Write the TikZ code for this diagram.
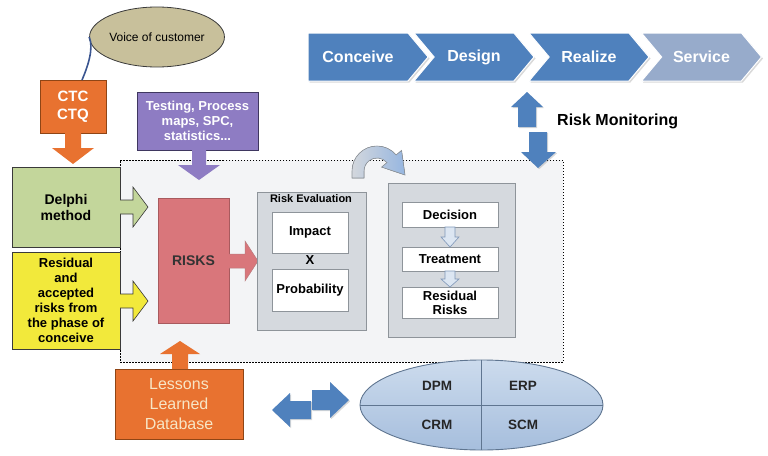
\documentclass[tikz,border=0pt]{standalone}
\usepackage{fontspec}
\setmainfont{Liberation Sans}
\usetikzlibrary{shapes.geometric,shapes.symbols,shadows,calc}
\definecolor{orgcol}{HTML}{E87230}
\definecolor{orgdark}{HTML}{8F4515}
\definecolor{purcol}{HTML}{8E7CC3}
\definecolor{purdark}{HTML}{3F3760}
\definecolor{greencol}{HTML}{C3D69B}
\definecolor{yelcol}{HTML}{F2E93B}
\definecolor{riskcol}{HTML}{D9767B}
\definecolor{riskdark}{HTML}{A85A5E}
\definecolor{graybox}{HTML}{D5D9DE}
\definecolor{grayline}{HTML}{8E949A}
\definecolor{bluecol}{HTML}{4F81BD}
\definecolor{servcol}{HTML}{97ABCB}
\definecolor{regcol}{HTML}{F3F4F6}
\definecolor{voccol}{HTML}{C8C09B}
\definecolor{cream}{HTML}{F7E6C6}
\definecolor{darkline}{HTML}{3A3A3A}
\definecolor{smallarr}{HTML}{DCE6F2}
\definecolor{smallarrline}{HTML}{7F97B8}
\definecolor{sysline}{HTML}{5F7590}
\definecolor{systop}{HTML}{CCDBED}
\definecolor{sysbot}{HTML}{A6BEDD}
\definecolor{curvl}{HTML}{D3D7DD}
\definecolor{curvr}{HTML}{96B6E0}
\definecolor{voiceline}{HTML}{3A5590}
\begin{document}
\begin{tikzpicture}[x=1pt,y=-1pt,
  bx/.style={rectangle, inner sep=0pt, outer sep=0pt, align=center},
  f16/.style={font=\bfseries\fontsize{16}{18}\selectfont},
  f13/.style={font=\bfseries\fontsize{13}{15}\selectfont},
  chev/.style={signal, signal to=east, signal pointer angle=100, minimum width=120pt,
    minimum height=48pt, inner sep=0pt, fill=bluecol, draw=white, line width=1pt,
    text=white, f16, drop shadow={shadow xshift=1.5pt, shadow yshift=-1.5pt, opacity=0.3}},
  barrow/.style={fill=bluecol, drop shadow={shadow xshift=1.2pt, shadow yshift=-1.2pt, opacity=0.3}},
  whitebox/.style={bx, fill=white, draw=grayline, line width=0.8pt, minimum width=76pt},
  tbox/.style={bx, fill=white, draw=grayline, line width=0.8pt, minimum width=96pt, f13},
  systext/.style={font=\bfseries\fontsize{13.5}{15}\selectfont, text=black!85}
]
\useasboundingbox (0,0) rectangle (768,455);

% dotted region
\node[bx, draw=black, line width=0.9pt, dash pattern=on 1.5pt off 1.5pt, fill=regcol,
  minimum width=443pt, minimum height=202pt] (region) at (341.5,261) {};

% chevrons
\node[chev, signal from=nowhere] (conceive) at (358,57) {Conceive};
\node[chev, signal from=west] (design) at (474,57) {Design};
\node[chev, signal from=west] (realize) at (589,57) {Realize};
\node[chev, signal from=west, fill=servcol] (service) at (701.5,57) {Service};

% risk monitoring
\fill[barrow] (527,92) -- (543,107) -- (536,107) -- (536,127) -- (518,127) -- (518,107) -- (511,107) -- cycle;
\fill[barrow] (529,132) -- (547,132) -- (547,152) -- (556,152) -- (538,168) -- (521,152) -- (529,152) -- cycle;
\node[f16, anchor=west, inner sep=0pt] (riskmon) at (557,121) {Risk Monitoring};

% voice of customer
\node[ellipse, draw=darkline, fill=voccol, line width=0.8pt, minimum width=105pt, minimum height=60pt,
  inner sep=0pt, font=\fontsize{12}{14}\selectfont] (voc) at (157,37) {Voice of customer};
\node[bx, draw=orgdark, fill=orgcol, line width=0.8pt, minimum width=66pt, minimum height=53pt,
  text=white, font=\bfseries\fontsize{15}{18}\selectfont] (ctc) at (73,106.5) {CTC\\CTQ};
\draw[voiceline, line width=1.6pt] (voc.west) .. controls (94,48) and (88,66) .. ([xshift=9pt]ctc.north);
\fill[orgcol] (65,133) -- (81,133) -- (81,148) -- (94,148) -- (73,164) -- (52,148) -- (65,148) -- cycle;

% tools
\node[bx, draw=purdark, fill=purcol, line width=0.8pt, minimum width=121pt, minimum height=58pt,
  text=white, f13] (tools) at (197.5,121) {Testing, Process\\maps, SPC,\\statistics...};
\fill[purcol] (192,150) -- (206,150) -- (206,165) -- (220,165) -- (199,180) -- (178,165) -- (192,165) -- cycle;

% Delphi
\node[bx, draw=darkline, fill=greencol, line width=0.8pt, minimum width=108pt, minimum height=80pt,
  font=\bfseries\fontsize{14}{16}\selectfont] (delphi) at (66,207) {Delphi\\method};
\filldraw[fill=greencol, draw=darkline, line width=0.6pt] (120,200) -- (133,200) -- (133,187) -- (148,207) -- (133,227) -- (133,214) -- (120,214);

% residual
\node[bx, draw=darkline, fill=yelcol, line width=0.8pt, minimum width=108pt, minimum height=97pt,
  f13] (resid) at (66,300.5) {Residual\\and\\accepted\\risks from\\the phase of\\conceive};
\filldraw[fill=yelcol, draw=darkline, line width=0.6pt] (120,294) -- (133,294) -- (133,281) -- (148,301) -- (133,321) -- (133,308) -- (120,308);

% RISKS
\node[bx, draw=riskdark, fill=riskcol, line width=0.8pt, minimum width=71pt, minimum height=125pt,
  text=black!80, font=\bfseries\fontsize{14}{16}\selectfont] (risks) at (193.5,260.5) {RISKS};
\filldraw[fill=riskcol, draw=riskdark!80, line width=0.5pt] (229,254) -- (245,254) -- (245,241) -- (258,261) -- (245,281) -- (245,268) -- (229,268);

% risk evaluation
\node[bx, draw=grayline, fill=graybox, line width=0.9pt, minimum width=109pt, minimum height=138pt] (evalbox) at (311.5,261) {};
\node[font=\bfseries\fontsize{11}{13}\selectfont, inner sep=0pt] (evaltitle) at (311,199) {Risk Evaluation};
\node[whitebox, minimum height=41pt, f13] (impact) at (310,232.5) {Impact};
\node[f13, inner sep=0pt] (times) at (310,260.5) {X};
\node[whitebox, minimum height=42pt, f13] (prob) at (310,290) {Probability};

% treatment
\node[bx, draw=grayline, fill=graybox, line width=0.9pt, minimum width=127pt, minimum height=154pt] (treatbox) at (451.5,260) {};
\node[tbox, minimum height=25pt] (decision) at (450,214.5) {Decision};
\node[tbox, minimum height=24pt] (treatment) at (450,259) {Treatment};
\node[tbox, minimum height=31pt, font=\bfseries\fontsize{13}{14}\selectfont] (resrisk) at (450,302.5) {Residual\\Risks};
\filldraw[fill=smallarr, draw=smallarrline, line width=0.6pt] (445,227) -- (455,227) -- (455,237) -- (459,237) -- (450,247) -- (441,237) -- (445,237) -- cycle;
\filldraw[fill=smallarr, draw=smallarrline, line width=0.6pt] (445,271) -- (455,271) -- (455,279) -- (459,279) -- (450,287) -- (441,279) -- (445,279) -- cycle;

% curved arrow
\filldraw[left color=curvl, right color=curvr, draw=grayline, line width=0.6pt]
  (352,178) -- (352,171) arc[start angle=180, end angle=40, radius=25pt]
  -- (401.6,150.4) -- (405,175) -- (381.6,167.1) -- (387,162.6)
  arc[start angle=40, end angle=180, radius=13pt] -- (364,178) -- cycle;

% lessons
\node[bx, draw=orgdark, fill=orgcol, line width=0.8pt, minimum width=128pt, minimum height=70pt,
  text=cream, font=\fontsize{16}{20}\selectfont] (lessons) at (179,404) {Lessons\\Learned\\Database};
\fill[orgcol] (172,369) -- (172,354) -- (160,354) -- (180,341) -- (200,354) -- (188,354) -- (188,369) -- cycle;

% double arrows
\fill[barrow] (272,410) -- (290,393) -- (290,401) -- (311,401) -- (311,419) -- (290,419) -- (290,427) -- cycle;
\fill[barrow] (312,390) -- (330,390) -- (330,382) -- (349,400) -- (330,418) -- (330,410) -- (312,410) -- cycle;

% systems ellipse
\node[ellipse, draw=sysline, line width=0.9pt, top color=systop, bottom color=sysbot,
  minimum width=243pt, minimum height=90pt, inner sep=0pt] (sys) at (481.5,405) {};
\draw[sysline, line width=0.8pt] (sys.north) -- (sys.south);
\draw[sysline, line width=0.8pt] (sys.west) -- (sys.east);
\node[systext] (dpm) at (437,386) {DPM};
\node[systext] (erp) at (523,386) {ERP};
\node[systext] (crm) at (437,425) {CRM};
\node[systext] (scm) at (523,425) {SCM};
\end{tikzpicture}
\end{document}
